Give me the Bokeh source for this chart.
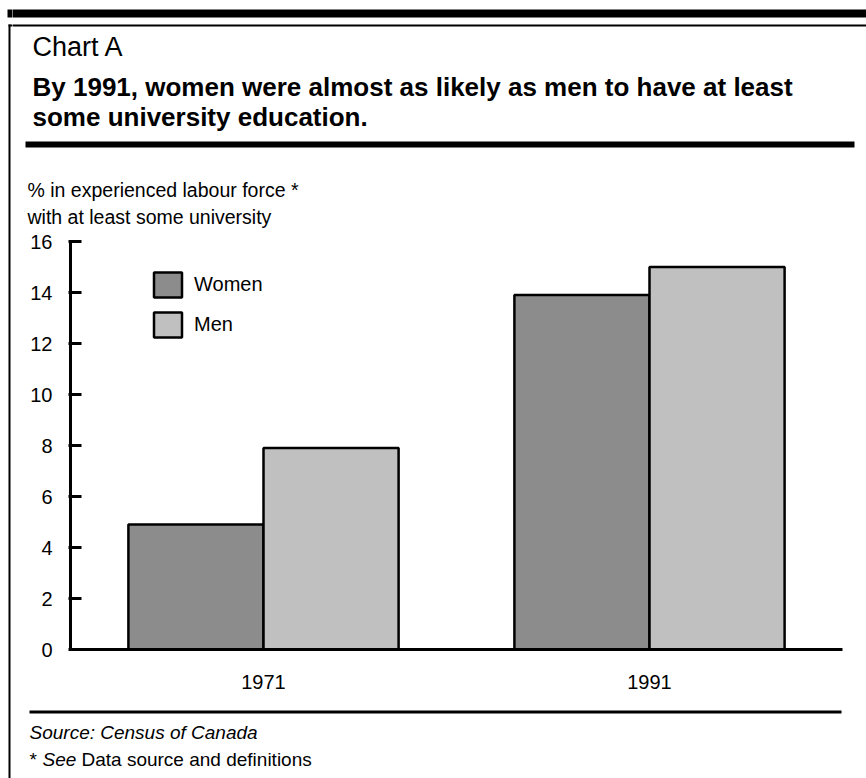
from bokeh.plotting import figure
from bokeh.models import (ColumnDataSource, FactorRange, Range1d, Label,
                          Legend, LegendItem, FixedTicker)
from bokeh.layouts import column, row
from bokeh.transform import dodge
from bokeh.embed import file_html
from bokeh.resources import INLINE

# ---- data ----
years = ["1971", "1991"]
series = ["Women", "Men"]
women = [4.9, 13.9]
men = [7.9, 15.0]
colors = ["#8c8c8c", "#c0c0c0"]
y_ticks = [0, 2, 4, 6, 8, 10, 12, 14, 16]

W, H = 866, 778
FONT = "Liberation Sans"
STRIP_W = 12
CW = W - STRIP_W                    # width of the column right of the strip
HEAD_H, MAIN_H = 231, 469
FOOT_H = H - HEAD_H - MAIN_H


def no_align(f):
    if "frame_align" in f.properties():
        f.frame_align = False


def deco_fig(w, h):
    # plain drawing surface; data units are pixels, y grows downwards
    f = figure(width=w, height=h, x_range=Range1d(0, w), y_range=Range1d(h, 0),
               output_backend="svg", toolbar_location=None,
               x_axis_location=None, y_axis_location=None, min_border=0)
    f.grid.visible = False
    f.outline_line_color = None
    f.background_fill_color = "white"
    f.border_fill_color = "white"
    no_align(f)
    return f


def rule(f, ox, oy, x0, x1, y0, y1):
    f.quad(left=[x0 - ox], right=[x1 - ox], top=[y0 - oy], bottom=[y1 - oy],
           fill_color="black", line_color=None)


def lab(f, ox, oy, text, x, y, size, style="normal"):
    # (x, y) = page position of the text's left end and baseline
    f.add_layout(Label(x=x - ox, y=y - oy - 0.4 * size, text=text, text_font=FONT,
                       text_font_size=f"{size}px", text_font_style=style,
                       text_baseline="alphabetic", text_align="left", text_color="black"))


# ---------- left frame strip (full height) ----------
strip = deco_fig(STRIP_W, H)
rule(strip, 0, 0, 7, 14, 9, 17)     # top heavy rule (left part)
rule(strip, 0, 0, 8, 14, 24, 26)    # frame top (left part)
rule(strip, 0, 0, 8, 10, 24, H)     # frame left

# ---------- header ----------
head = deco_fig(CW, HEAD_H)
hx, hy = STRIP_W, 0
rule(head, hx, hy, 10, 866, 9, 17)
rule(head, hx, hy, 10, 866, 24, 26)
rule(head, hx, hy, 25, 854, 141, 147)
lab(head, hx, hy, "Chart A", 32, 57, 27)
lab(head, hx, hy, "By 1991, women were almost as likely as men to have at least", 32, 97, 26, "bold")
lab(head, hx, hy, "some university education.", 32, 127, 26, "bold")
lab(head, hx, hy, "% in experienced labour force *", 27, 197, 19.5)
lab(head, hx, hy, "with at least some university", 27, 224, 19.5)

# ---------- main chart ----------
FL, FR, FT, FB = 70, 842, 241, 649  # frame edges in page pixels
MX, MY = STRIP_W, HEAD_H
p = figure(width=CW, height=MAIN_H,
           x_range=FactorRange(factors=years, range_padding=0),
           y_range=Range1d(0, 16),
           output_backend="svg", toolbar_location=None,
           min_border_left=FL - MX, min_border_right=W - FR,
           min_border_top=FT - MY, min_border_bottom=MY + MAIN_H - FB)
p.outline_line_color = None
p.grid.visible = False
p.background_fill_color = "white"
p.border_fill_color = "white"
no_align(p)

src = ColumnDataSource(dict(year=years, Women=women, Men=men))
r1 = p.vbar(x=dodge("year", -0.175, range=p.x_range), top="Women", width=0.35,
            source=src, fill_color=colors[0], line_color="black", line_width=2.5)
r2 = p.vbar(x=dodge("year", 0.175, range=p.x_range), top="Men", width=0.35,
            source=src, fill_color=colors[1], line_color="black", line_width=2.5)

ya = p.yaxis[0]
ya.ticker = FixedTicker(ticks=y_ticks)
ya.axis_line_width = 3
ya.major_tick_line_width = 3
ya.major_tick_in = 11
ya.major_tick_out = 2
ya.minor_tick_line_color = None
ya.major_label_text_font = FONT
ya.major_label_text_font_size = "20px"
ya.major_label_text_color = "black"
ya.major_label_standoff = 16

xa = p.xaxis[0]
xa.axis_line_width = 3
xa.major_tick_line_color = None
xa.major_tick_in = 0
xa.major_tick_out = 0
xa.major_label_text_font = FONT
xa.major_label_text_font_size = "20px"
xa.major_label_text_color = "black"
xa.major_label_standoff = 25

legend = Legend(items=[LegendItem(label=series[0], renderers=[r1]),
                       LegendItem(label=series[1], renderers=[r2])],
                location=(80, 309), glyph_width=35, glyph_height=31, spacing=9,
                padding=0, margin=0, border_line_color=None, background_fill_alpha=0,
                label_text_font=FONT, label_text_font_size="20px", label_standoff=9,
                label_text_color="black", label_height=31)
p.add_layout(legend)

# ---------- footer ----------
FY = HEAD_H + MAIN_H
foot = deco_fig(CW, FOOT_H)
fx = STRIP_W
rule(foot, fx, FY, 29, 841, 710, 713)
lab(foot, fx, FY, "Source: Census of Canada", 29, 740, 19, "italic")
lab(foot, fx, FY, "*", 29, 767, 19)
lab(foot, fx, FY, "See", 42, 767, 19, "italic")
lab(foot, fx, FY, "Data source and definitions", 81, 767, 19)

layout = row(strip, column(head, p, foot))
open("out.html", "w").write(file_html(layout, INLINE))
